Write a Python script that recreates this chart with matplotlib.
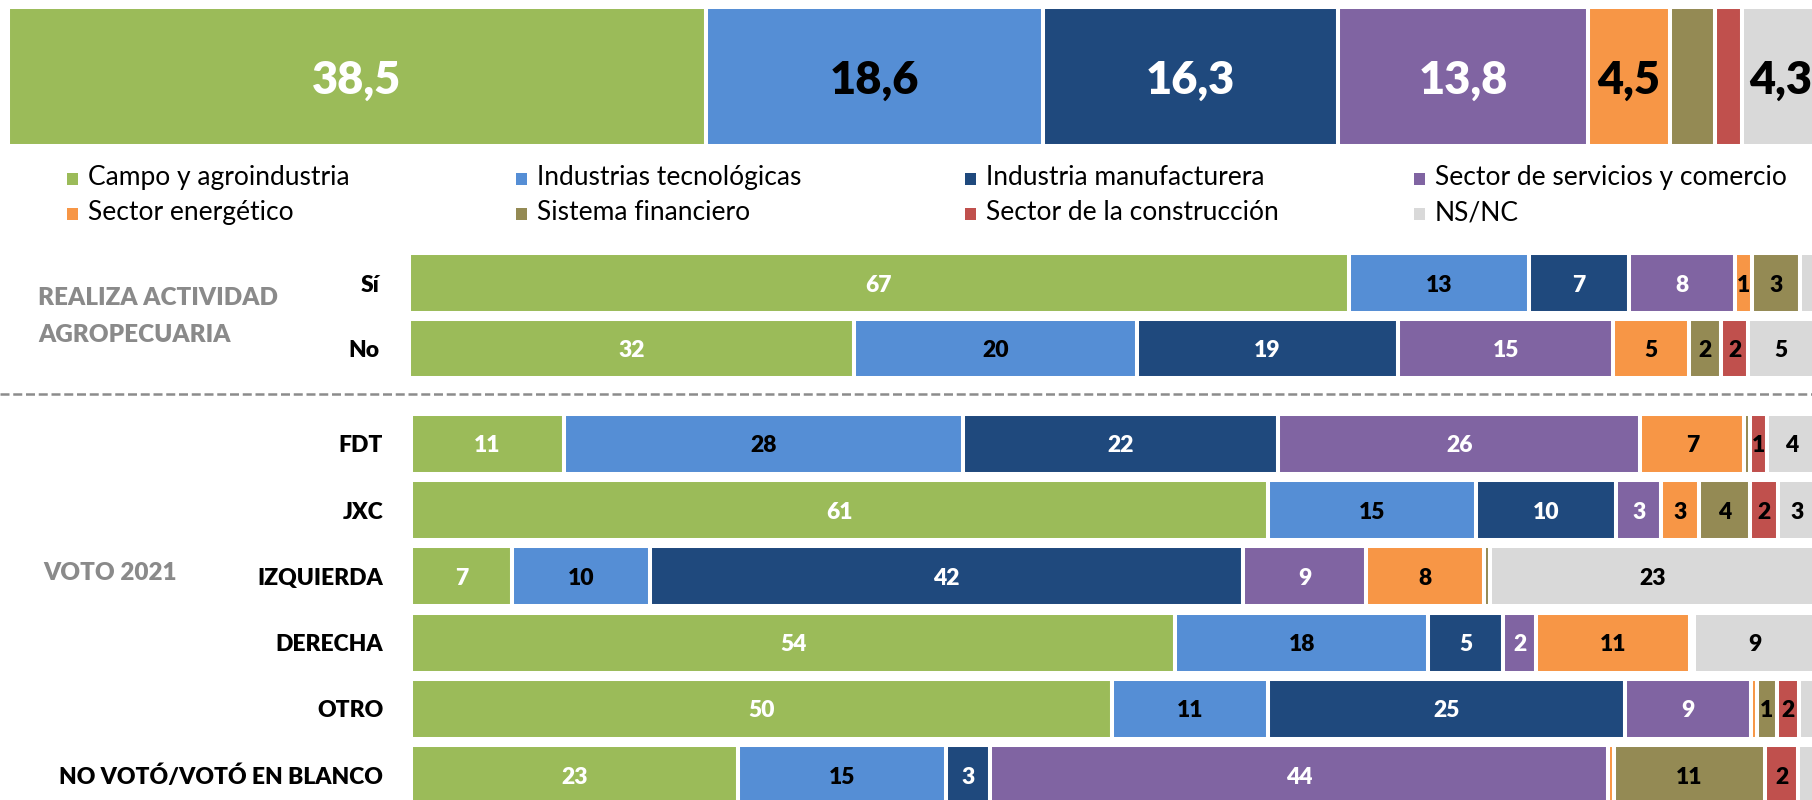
import matplotlib
matplotlib.use("Agg")
import matplotlib.pyplot as plt
from matplotlib.patches import Rectangle

plt.rcParams['font.family'] = ['Lato', 'DejaVu Sans']

sectors = ["Campo y agroindustria", "Industrias tecnológicas",
           "Industria manufacturera", "Sector de servicios y comercio",
           "Sector energético", "Sistema financiero",
           "Sector de la construcción", "NS/NC"]
sector_colors = ["#9BBB59", "#558ED5", "#1F497D", "#8064A2",
                 "#F79646", "#948A54", "#C0504D", "#D9D9D9"]
label_colors = ["white", "black", "white", "white",
                "black", "black", "black", "black"]

# total sample
total = [38.5, 18.6, 16.3, 13.8, 4.5, 2.5, 1.5, 4.3]

# realiza actividad agropecuaria
agro_rows = ["Sí", "No"]
agro_si = [66.9, 12.8, 7.1, 7.6, 1.2, 3.4, 0.0, 2.0]
agro_no = [31.7, 20.1, 18.6, 15.3, 5.4, 2.3, 1.9, 4.7]

# voto 2021
vote_rows = ["FDT", "JXC", "IZQUIERDA", "DERECHA", "OTRO",
             "NO VOTÓ/VOTÓ EN BLANCO"]
vote_fdt = [10.9, 28.4, 22.4, 25.8, 7.4, 0.4, 1.2, 3.5]
vote_jxc = [61.0, 14.8, 10.0, 3.2, 2.7, 3.6, 2.0, 2.7]
vote_izq = [7.2, 9.8, 42.2, 8.8, 8.4, 0.4, 0.0, 23.2]
vote_der = [54.4, 18.0, 5.3, 2.4, 10.9, 0.3, 0.0, 8.7]
vote_otro = [49.9, 11.1, 25.4, 9.0, 0.4, 1.4, 1.6, 2.0]
vote_novoto = [23.3, 14.8, 3.1, 44.0, 0.4, 10.8, 2.3, 2.2]

W, H = 1812, 800
fig = plt.figure(figsize=(W / 100, H / 100), dpi=100)


def px_axes(left, top, right, bottom):
    return fig.add_axes([left / W, 1 - bottom / H,
                         (right - left) / W, (bottom - top) / H])


def stacked_row(ax, y, values, height, fmt, min_label, fontsize):
    left = 0
    x_max = ax.get_xlim()[1]
    for v, color, tcolor in zip(values, sector_colors, label_colors):
        ax.barh(y, v, left=left, height=height, color=color,
                edgecolor='white', linewidth=2.9)
        center = left + v / 2
        if v >= min_label and center < x_max:
            ax.text(center, y, fmt(v), ha='center', va='center_baseline',
                    color=tcolor, fontsize=fontsize, fontweight='heavy',
                    clip_on=True)
        left += v


def style_rows(ax, labels, pad):
    for s in ax.spines.values():
        s.set_visible(False)
    ax.set_xticks([])
    ax.set_yticks(range(len(labels)))
    ax.set_yticklabels(labels, fontsize=16.5, fontweight='heavy')
    ax.tick_params(axis='y', length=0, pad=pad)
    ax.patch.set_visible(False)


def int_label(v):
    return f"{v:.0f}"


def dec_label(v):
    return f"{v:.1f}".replace(".", ",")


# background layer for legend, titles and separator (pixel coords)
ax_leg = fig.add_axes([0, 0, 1, 1])
ax_leg.set_xlim(0, W)
ax_leg.set_ylim(H, 0)
ax_leg.axis('off')

for i, (name, color) in enumerate(zip(sectors, sector_colors)):
    x = 67 + 449 * (i % 4)
    base = 185 + 35 * (i // 4)
    ax_leg.add_patch(Rectangle((x, base - 12), 11, 12, color=color, lw=0))
    ax_leg.text(x + 21, base, name, fontsize=19, va='baseline')

ax_leg.text(38, 305, "REALIZA ACTIVIDAD", fontsize=17.5,
            fontweight='heavy', color='#8a8a8a', va='baseline', ha='left')
ax_leg.text(38, 342, "AGROPECUARIA", fontsize=17.5,
            fontweight='heavy', color='#8a8a8a', va='baseline', ha='left')
ax_leg.text(43, 580, "VOTO 2021", fontsize=17.5, fontweight='heavy',
            color='#8a8a8a', va='baseline', ha='left')
ax_leg.axhline(394, color='#8c8c8c', lw=1.8, linestyle=(0, (3.6, 1.5)))

# top bar: total
ax_top = px_axes(8, 7, W, 146)
ax_top.set_xlim(0, (W - 8) / 18.12)
ax_top.set_ylim(-0.5, 0.5)
ax_top.axis('off')
stacked_row(ax_top, 0, total, 1.0, dec_label, 4, 32.5)

# realiza actividad agropecuaria
ax_agro = px_axes(409, 250.25, W, 381.25)
ax_agro.set_xlim(0, (W - 409) / 14.05)
ax_agro.set_ylim(1.5, -0.5)
for i, row in enumerate([agro_si, agro_no]):
    stacked_row(ax_agro, i, row, 0.916, int_label, 0.5, 16.5)
style_rows(ax_agro, agro_rows, 21)

# voto 2021
ax_vote = px_axes(411, 410.9, W, H)
ax_vote.set_xlim(0, (W - 411) / 14.05)
ax_vote.set_ylim((H - 410.9) / 66.2 - 0.5, -0.5)
vote_data = [vote_fdt, vote_jxc, vote_izq, vote_der, vote_otro, vote_novoto]
for i, row in enumerate(vote_data):
    stacked_row(ax_vote, i, row, 0.906, int_label, 0.5, 16.5)
style_rows(ax_vote, vote_rows, 20)

fig.savefig("out.png", dpi=100)
